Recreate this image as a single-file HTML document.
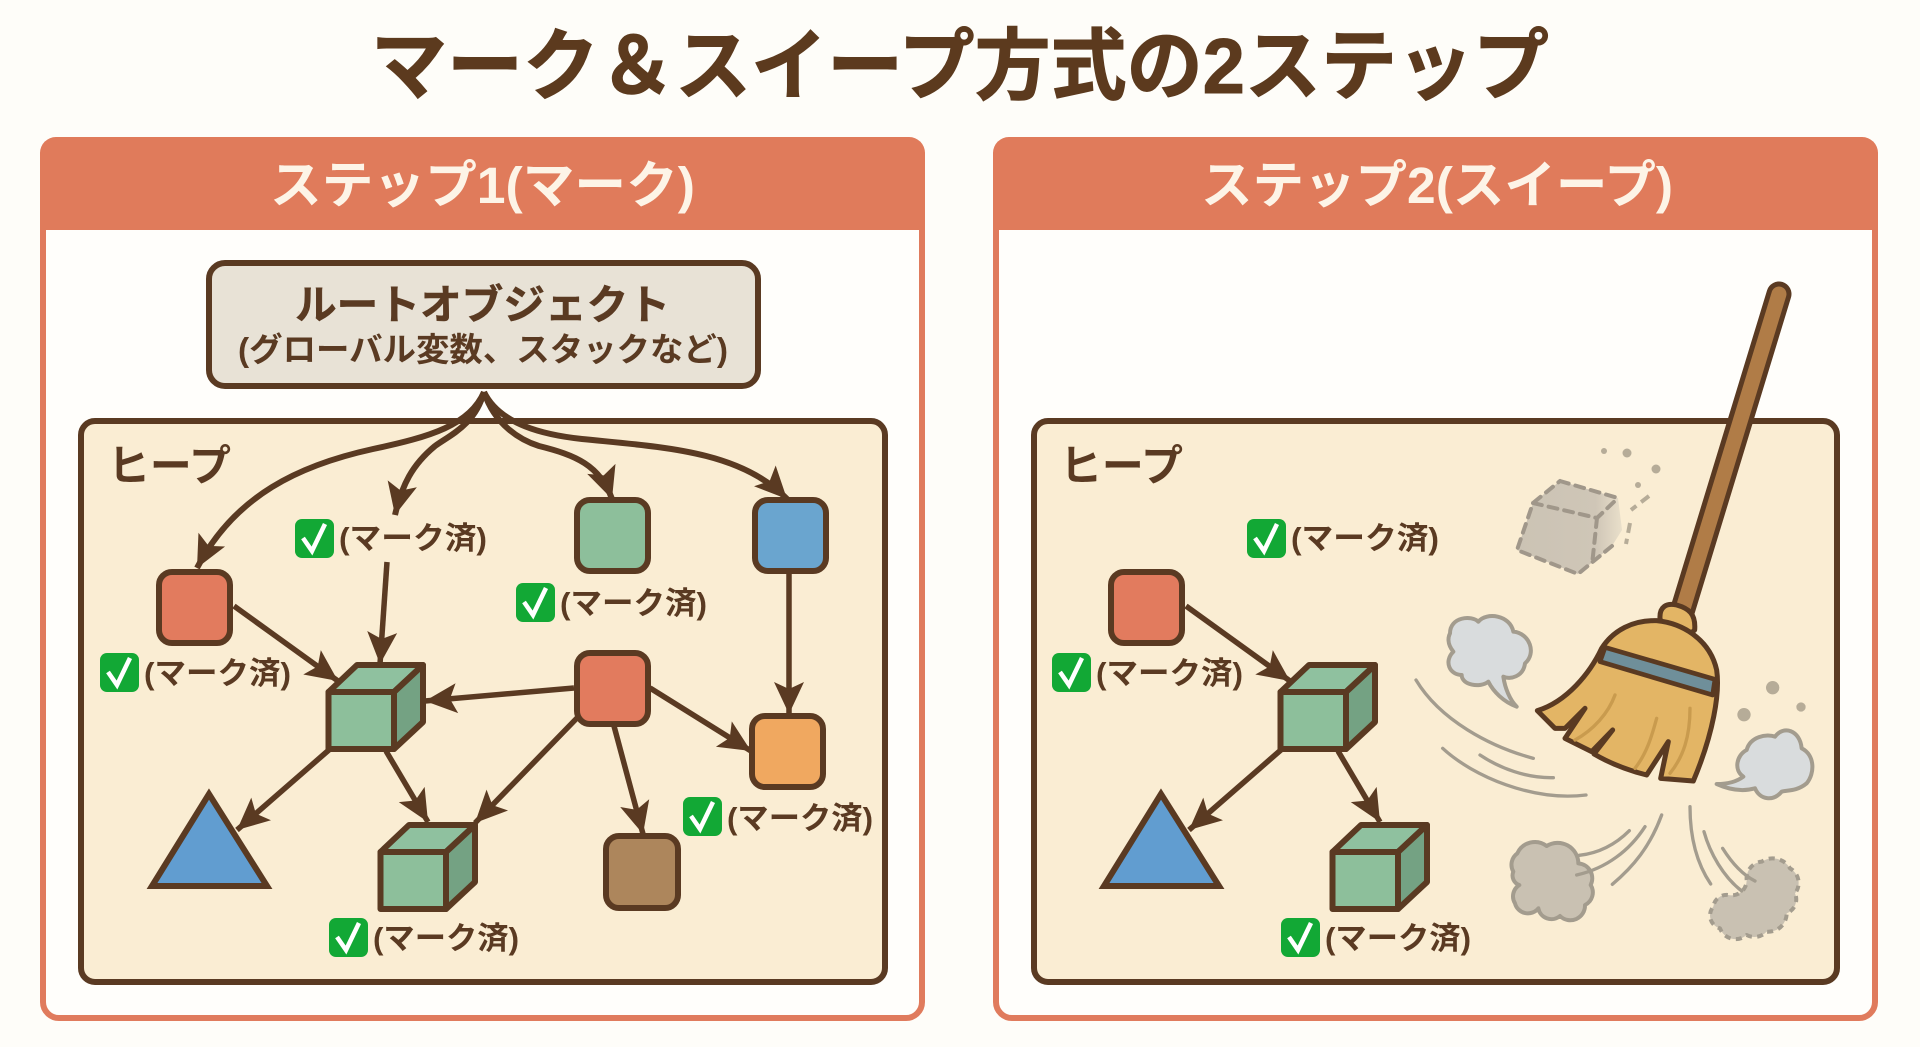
<!DOCTYPE html>
<html><head><meta charset="utf-8"><title>マーク＆スイープ方式の2ステップ</title>
<style>html,body{margin:0;padding:0;background:#fefdf9;width:1920px;height:1047px;overflow:hidden}svg{display:block}text{font-family:"Liberation Sans","Noto Sans CJK JP",sans-serif;font-weight:700}</style></head><body>
<svg xmlns="http://www.w3.org/2000/svg" width="1920" height="1047" viewBox="0 0 1920 1047">
<defs>
<marker id="a" markerUnits="userSpaceOnUse" markerWidth="36" markerHeight="34" refX="32" refY="15" orient="auto" overflow="visible"><path d="M0,0L32,15L0,30L7,15Z" fill="#5a3a22"/></marker>
<linearGradient id="gh" x1="0" x2="1" y1="0" y2="0"><stop offset="0" stop-color="#cbc3b4"/><stop offset=".75" stop-color="#cfc6b7"/><stop offset="1" stop-color="#e9dfca"/></linearGradient>
<g id="cube" stroke="#5a3a22" stroke-width="6" stroke-linejoin="round"><path d="M2.5,30L31,3H97L68,30Z" fill="#8fc19f"/><path d="M68,30L97,3V60L68,87Z" fill="#74a283"/><rect x="2.5" y="30" width="65.5" height="57" fill="#8dbf9b"/></g>
<g id="chk"><rect width="39" height="39" rx="7" fill="#12a835"/><path d="M8,19L17,32L30,5" fill="none" stroke="#fff" stroke-width="4.5"/></g>
<g id="tri"><path d="M209,794L152,886H267Z" fill="#619dd0" stroke="#5a3a22" stroke-width="6" stroke-linejoin="miter"/></g>
</defs>
<rect width="1920" height="1047" fill="#fefdf9"/>
<text x="371" y="93" font-size="78" fill="#5c3a1e" stroke="#5c3a1e" stroke-width="1" textLength="1178" lengthAdjust="spacingAndGlyphs">マーク＆スイープ方式の2ステップ</text>

<!-- panel 1 -->
<rect x="43" y="140" width="879" height="878" rx="16" fill="#fffefb" stroke="#e07b5d" stroke-width="6"/>
<path d="M40,230V153a16,16 0 0 1 16,-16H909a16,16 0 0 1 16,16V230Z" fill="#e07b5b"/>
<text x="270" y="203" font-size="51" fill="#fdf4e7" textLength="425" lengthAdjust="spacingAndGlyphs">ステップ1(マーク)</text>
<rect x="81" y="421" width="804" height="561" rx="14" fill="#faedd3" stroke="#5a3a22" stroke-width="6"/>
<g fill="none" stroke="#5a3a22" stroke-width="6">
<path d="M484,392C470,425 430,437 373,449C300,465 235,495 197,568" marker-end="url(#a)"/>
<path d="M484,392C475,425 450,435 435,446C412,465 402,485 395,515" marker-end="url(#a)"/>
<path d="M484,392C495,425 520,440 539,446C575,455 600,465 612,499" marker-end="url(#a)"/>
<path d="M484,392C500,425 545,435 582,439C660,447 740,450 787,499" marker-end="url(#a)"/>
</g>
<rect x="209" y="263" width="549" height="123" rx="16" fill="#e8e2d6" stroke="#5a3a22" stroke-width="6"/>
<text x="295" y="319" font-size="41" fill="#5a3a22" stroke="#5a3a22" stroke-width=".5" textLength="375" lengthAdjust="spacingAndGlyphs">ルートオブジェクト</text>
<text x="238" y="361" font-size="33" fill="#5a3a22" textLength="490" lengthAdjust="spacingAndGlyphs">(グローバル変数、スタックなど)</text>
<text x="108" y="481" font-size="43" fill="#5a3a22" textLength="123" lengthAdjust="spacingAndGlyphs">ヒープ</text>

<g fill="none" stroke="#5a3a22" stroke-width="5.5">
<line x1="387" y1="562" x2="380" y2="664" marker-end="url(#a)"/>
<line x1="234" y1="606" x2="338" y2="681" marker-end="url(#a)"/>
<line x1="574" y1="688" x2="425" y2="701" marker-end="url(#a)"/>
<line x1="650" y1="688" x2="751" y2="751" marker-end="url(#a)"/>
<line x1="577" y1="718" x2="475" y2="823" marker-end="url(#a)"/>
<line x1="614" y1="726" x2="643" y2="834" marker-end="url(#a)"/>
<line x1="789" y1="574" x2="789" y2="714" marker-end="url(#a)"/>
<line x1="330" y1="749" x2="237" y2="830" marker-end="url(#a)"/>
<line x1="386" y1="751" x2="428" y2="822" marker-end="url(#a)"/>
</g>
<g stroke="#5a3a22" stroke-width="6">
<rect x="159" y="572" width="71" height="71" rx="13" fill="#e27b5e"/>
<rect x="577" y="500" width="71" height="71" rx="13" fill="#8dbf9b"/>
<rect x="755" y="500" width="71" height="71" rx="13" fill="#6aa5cf"/>
<rect x="577" y="653" width="71" height="71" rx="13" fill="#e27b5e"/>
<rect x="752" y="716" width="71" height="71" rx="13" fill="#f0a860"/>
<rect x="606" y="836" width="72" height="72" rx="13" fill="#ad865c"/>
</g>
<use href="#cube" x="326" y="662"/><use href="#cube" x="378" y="822"/><use href="#tri"/>
<g fill="#5a3a22" font-size="31">
<use href="#chk" x="295" y="519"/><text x="339" y="549" textLength="148" lengthAdjust="spacingAndGlyphs">(マーク済)</text>
<use href="#chk" x="516" y="583"/><text x="560" y="614" textLength="147" lengthAdjust="spacingAndGlyphs">(マーク済)</text>
<use href="#chk" x="100" y="653"/><text x="144" y="684" textLength="147" lengthAdjust="spacingAndGlyphs">(マーク済)</text>
<use href="#chk" x="683" y="797"/><text x="727" y="829" textLength="146" lengthAdjust="spacingAndGlyphs">(マーク済)</text>
<use href="#chk" x="329" y="918"/><text x="373" y="949" textLength="146" lengthAdjust="spacingAndGlyphs">(マーク済)</text>
</g>

<!-- panel 2 -->
<rect x="996" y="140" width="879" height="878" rx="16" fill="#fffefb" stroke="#e07b5d" stroke-width="6"/>
<path d="M993,230V153a16,16 0 0 1 16,-16H1862a16,16 0 0 1 16,16V230Z" fill="#e07b5b"/>
<text x="1201" y="203" font-size="51" fill="#fdf4e7" textLength="472" lengthAdjust="spacingAndGlyphs">ステップ2(スイープ)</text>
<rect x="1034" y="421" width="803" height="561" rx="14" fill="#faedd3" stroke="#5a3a22" stroke-width="6"/>
<text x="1060" y="481" font-size="43" fill="#5a3a22" textLength="123" lengthAdjust="spacingAndGlyphs">ヒープ</text>
<g transform="translate(952,0)">
<g fill="none" stroke="#5a3a22" stroke-width="5.5">
<line x1="234" y1="606" x2="338" y2="681" marker-end="url(#a)"/>
<line x1="330" y1="749" x2="237" y2="830" marker-end="url(#a)"/>
<line x1="386" y1="751" x2="428" y2="822" marker-end="url(#a)"/>
</g>
<rect x="159" y="572" width="71" height="71" rx="13" fill="#e27b5e" stroke="#5a3a22" stroke-width="6"/>
<use href="#cube" x="326" y="662"/><use href="#cube" x="378" y="822"/><use href="#tri"/>
<g fill="#5a3a22" font-size="31">
<use href="#chk" x="295" y="519"/><text x="339" y="549" textLength="148" lengthAdjust="spacingAndGlyphs">(マーク済)</text>
<use href="#chk" x="100" y="653"/><text x="144" y="684" textLength="147" lengthAdjust="spacingAndGlyphs">(マーク済)</text>
<use href="#chk" x="329" y="918"/><text x="373" y="949" textLength="146" lengthAdjust="spacingAndGlyphs">(マーク済)</text>
</g>
</g>

<!-- ghost cube -->
<path d="M1560,481L1618,498L1622,530L1612,546L1578,574L1517,550L1533,503Z" fill="url(#gh)"/>
<path d="M1560,481L1618,498M1612,546L1578,574L1517,550L1533,503L1560,481M1533,503L1597,518L1618,498M1597,518L1592,565" fill="none" stroke="#a0978a" stroke-width="4" stroke-dasharray="9 7" stroke-linecap="round"/>
<g fill="#b6ac98"><circle cx="1627" cy="453" r="4.5"/><circle cx="1604" cy="451" r="3"/><circle cx="1656" cy="469" r="4.5"/><circle cx="1638" cy="485" r="3"/></g>
<path d="M1649,496L1631,510M1630,523L1626,544" stroke="#b6ac98" stroke-width="4" fill="none" stroke-dasharray="10 6"/>

<!-- broom handle -->
<line x1="1779" y1="294" x2="1682" y2="612" stroke="#5a3a22" stroke-width="25" stroke-linecap="round"/>
<line x1="1779" y1="294" x2="1682" y2="612" stroke="#b07c47" stroke-width="15" stroke-linecap="round"/>

<g transform="translate(1400,560) scale(.33333)">
<path d="M780,175C778,140 800,128 830,135C865,145 888,160 884,210L850,240L790,215Z" fill="#e3b565" stroke="#5a3a22" stroke-width="15" stroke-linejoin="round"/>
<path d="M412,452C500,425 570,340 605,265C640,210 700,180 770,182C850,190 930,240 950,330C960,400 940,520 880,663L782,655L805,545L740,645C680,630 630,610 582,582L638,510L575,575L495,535L555,445L495,505L465,505Z" fill="#e3b565" stroke="#5a3a22" stroke-width="15" stroke-linejoin="round"/>
<path d="M645,405C625,460 580,510 525,540M770,475C755,530 740,580 705,625M870,445C870,530 850,590 810,640" fill="none" stroke="#c99b4e" stroke-width="10" stroke-linecap="round"/>
<path d="M615,262L945,358L938,405L600,305Z" fill="#6f8f9a" stroke="#5a3a22" stroke-width="14" stroke-linejoin="round"/>

<g stroke="#a39c8e" stroke-width="12" stroke-linejoin="round">
<path d="M150,220C150,170 215,165 235,185C260,155 330,165 340,215C390,220 410,280 375,310C370,350 330,360 310,350C315,385 330,420 350,440C310,425 280,395 265,365C240,385 185,375 185,345C150,345 130,305 160,275C140,250 145,230 150,220Z" fill="#d9dcdd"/>
<path d="M1040,570C1050,530 1100,520 1125,530C1150,495 1200,510 1205,565C1245,585 1245,640 1220,670C1190,695 1160,690 1145,695C1120,725 1080,720 1065,685C1030,695 990,690 950,672C980,672 1010,665 1030,650C1000,630 1010,585 1040,570Z" fill="#d9dcdd"/>
<path d="M340,935A42,42 0 0 1 352,880A58,58 0 0 1 440,858A62,62 0 0 1 535,910A45,45 0 0 1 572,975A42,42 0 0 1 555,1035A44,44 0 0 1 480,1068A40,40 0 0 1 415,1045A40,40 0 0 1 345,1030A40,40 0 0 1 358,975A30,30 0 0 1 340,935Z" fill="#c9c1b2"/>
<path d="M1040,960A50,50 0 0 1 1085,905A60,60 0 0 1 1170,925A50,50 0 0 1 1185,1000A45,45 0 0 1 1160,1060A55,55 0 0 1 1100,1115A50,50 0 0 1 1040,1125A50,50 0 0 1 960,1105A40,40 0 0 1 940,1040A40,40 0 0 1 985,1005A45,45 0 0 0 1040,960Z" fill="#c9c1b2" stroke-dasharray="18 16"/>
</g>
<g fill="none" stroke="#a39c8e" stroke-width="10" stroke-linecap="round">
<path d="M48,360C120,480 270,560 400,595"/>
<path d="M128,565C220,650 400,725 558,705"/>
<path d="M240,585C300,625 380,655 460,653"/>
<path d="M785,765C750,860 700,920 637,973"/>
<path d="M735,800C690,870 620,925 530,945"/>
<path d="M688,812C640,860 590,880 538,886"/>
<path d="M870,740C870,830 890,910 932,972"/>
<path d="M912,815C930,880 970,950 1025,993"/>
<path d="M968,865C990,900 1020,940 1065,963"/>
</g>
<g fill="#b6ac98"><circle cx="1118" cy="383" r="20"/><circle cx="1032" cy="464" r="20"/><circle cx="1203" cy="441" r="14"/></g>
</g>
</svg>
</body></html>
